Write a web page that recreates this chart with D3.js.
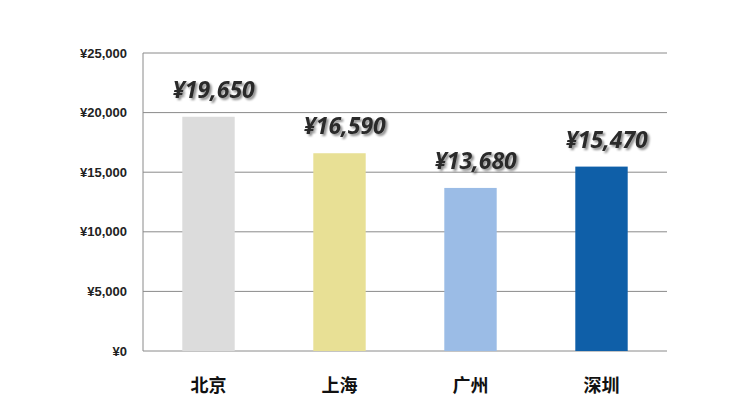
<!DOCTYPE html><html><head><meta charset="utf-8"><script src="https://cdn.jsdelivr.net/npm/d3@7"></script>
<style>body{margin:0;background:#fff}</style></head><body><svg width="748" height="420"></svg><script>
const categories=["北京","上海","广州","深圳"];
const values=[19650,16590,13680,15470];
const colors=["#dcdcdc","#e8e095","#9bbce6","#0f5fa8"];
const ticks=[0,5000,10000,15000,20000,25000];
const svg=d3.select("svg");
const defs=svg.append("defs");
const f=defs.append("filter").attr("id","sh").attr("x","-10%").attr("y","-20%").attr("width","130%").attr("height","160%");
f.append("feDropShadow").attr("dx",2).attr("dy",2).attr("stdDeviation",1.2).attr("flood-color","#000").attr("flood-opacity",0.45);
const x=d3.scaleBand().domain(categories).range([143,667]).paddingInner(0.6).paddingOuter(0.3);
const y=d3.scaleLinear().domain([0,25000]).range([351,53]);
const fmt=v=>"¥"+d3.format(",")(v);
svg.selectAll(".g").data(ticks).join("line").attr("x1",143).attr("x2",667).attr("y1",d=>y(d)).attr("y2",d=>y(d)).attr("stroke","#8a8a8a").attr("stroke-width",1);
svg.append("line").attr("x1",143).attr("x2",143).attr("y1",53).attr("y2",351).attr("stroke","#8a8a8a");
svg.selectAll(".t").data(ticks).join("text").attr("x",127).attr("y",d=>y(d)+4.5).attr("text-anchor","end").attr("font-family","Liberation Sans, Arial").attr("font-weight","bold").attr("font-size",13).attr("fill","#222").text(fmt);
svg.selectAll(".b").data(values).join("rect").attr("x",(d,i)=>x(categories[i])).attr("width",x.bandwidth()).attr("y",d=>y(d)).attr("height",d=>351-y(d)).attr("fill",(d,i)=>colors[i]);
svg.selectAll(".v").data(values).join("text").attr("x",(d,i)=>x(categories[i])+x.bandwidth()/2+5).attr("y",d=>y(d)-19).attr("text-anchor","middle").attr("font-family","Open Sans, Liberation Sans").attr("font-weight","bold").attr("font-style","italic").attr("font-size",23).attr("fill","#2a2a2a").attr("filter","url(#sh)").text(fmt);
svg.selectAll(".c").data(categories).join("text").attr("x",d=>x(d)+x.bandwidth()/2).attr("y",392).attr("text-anchor","middle").attr("font-family","Noto Sans CJK SC").attr("font-weight","bold").attr("font-size",18).attr("fill","#111").text(d=>d);
</script></body></html>
